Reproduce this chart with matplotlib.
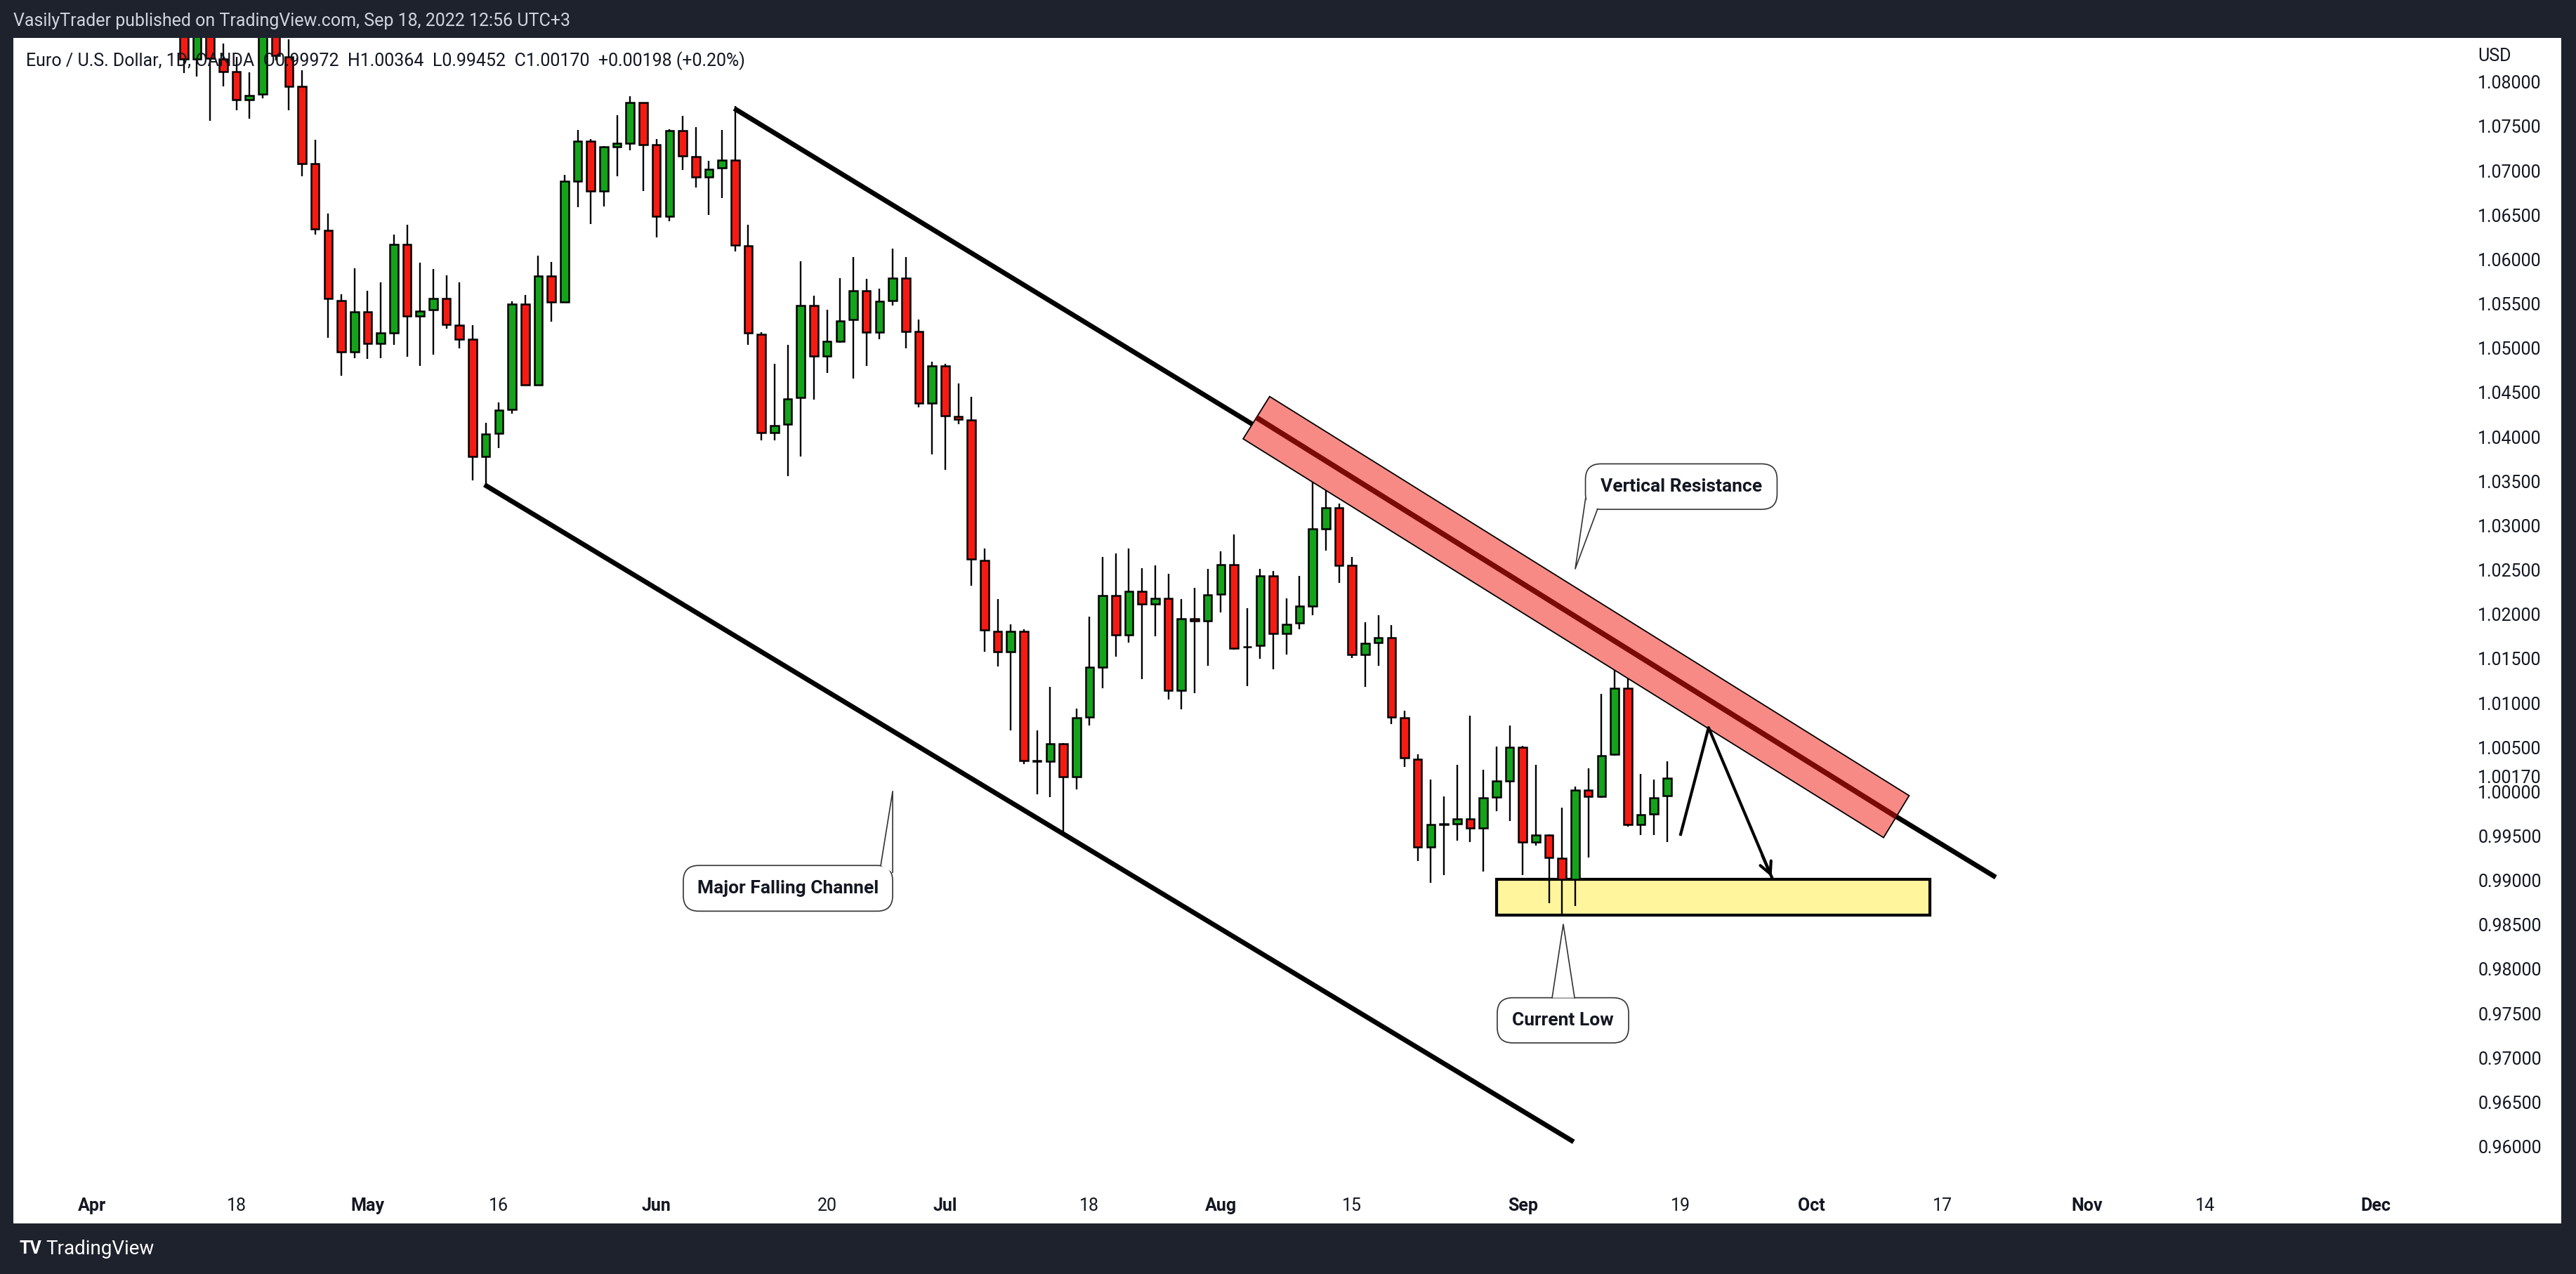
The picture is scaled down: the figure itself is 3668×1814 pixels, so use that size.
import numpy as np
import pandas as pd
import matplotlib
matplotlib.use("Agg")
import matplotlib.pyplot as plt
from matplotlib.patches import Polygon, FancyBboxPatch

# ---------------- data (EUR/USD daily, OANDA) ----------------
start_date = "2022-04-12"
opens = [1.0887,1.0828,1.0890,1.0828,1.0814,1.0782,1.0788,1.0880,1.0830,1.0797,
         1.0710,1.0635,1.0556,1.0498,1.0543,1.0507,1.0519,1.0619,1.0538,1.0545,
         1.0558,1.0528,1.0512,1.0380,1.0406,1.0433,1.0552,1.0461,1.0583,1.0554,
         1.0690,1.0735,1.0679,1.0729,1.0733,1.0779,1.0731,1.0651,1.0747,1.0718,
         1.0695,1.0705,1.0714,1.0617,1.0518,1.0407,1.0416,1.0446,1.0550,1.0493,
         1.0510,1.0534,1.0567,1.0520,1.0556,1.0581,1.0521,1.0440,1.0482,1.0425,
         1.0421,1.0263,1.0183,1.0160,1.0183,1.0036,1.0036,1.0056,1.0019,1.0086,
         1.0142,1.0223,1.0179,1.0228,1.0214,1.0220,1.0116,1.0197,1.0195,1.0225,
         1.0258,1.0165,1.0167,1.0245,1.0180,1.0192,1.0211,1.0298,1.0322,1.0257,
         1.0157,1.0170,1.0176,1.0085,1.0039,0.9940,0.9965,0.9966,0.9971,0.9961,
         0.9996,1.0014,1.0052,0.9945,0.9953,0.9927,0.9903,1.0004,0.9997,1.0044,
         1.0119,0.9965,0.9977,0.99972]
highs = [1.0900,1.0905,1.0925,1.0845,1.0830,1.0813,1.0936,1.0890,1.0850,1.0815,
         1.0737,1.0654,1.0563,1.0592,1.0567,1.0576,1.0630,1.0641,1.0598,1.0591,
         1.0584,1.0576,1.0528,1.0418,1.0441,1.0555,1.0562,1.0606,1.0599,1.0697,
         1.0748,1.0738,1.0730,1.0765,1.0786,1.0779,1.0738,1.0749,1.0764,1.0751,
         1.0713,1.0748,1.0775,1.0641,1.0520,1.0484,1.0506,1.0600,1.0561,1.0545,
         1.0581,1.0605,1.0580,1.0569,1.0614,1.0605,1.0534,1.0487,1.0484,1.0462,
         1.0447,1.0276,1.0219,1.0191,1.0185,1.0071,1.0120,1.0057,1.0096,1.0199,
         1.0267,1.0271,1.0276,1.0254,1.0257,1.0248,1.0219,1.0232,1.0253,1.0273,
         1.0292,1.0209,1.0253,1.0251,1.0220,1.0245,1.0367,1.0363,1.0327,1.0267,
         1.0193,1.0201,1.0190,1.0093,1.0044,1.0016,0.9997,1.0032,1.0088,1.0027,
         1.0053,1.0077,1.0054,1.0032,0.9954,0.9984,1.0008,1.0028,1.0112,1.0196,
         1.0185,1.0022,1.0016,1.00364]
lows = [1.0812,1.0808,1.0758,1.0797,1.0770,1.0761,1.0784,1.0826,1.0770,1.0696,
        1.0630,1.0514,1.0471,1.0491,1.0490,1.0491,1.0506,1.0492,1.0482,1.0495,
        1.0524,1.0502,1.0353,1.0348,1.0389,1.0428,1.0460,1.0460,1.0532,1.0553,
        1.0661,1.0642,1.0662,1.0696,1.0725,1.0679,1.0627,1.0645,1.0703,1.0683,
        1.0652,1.0671,1.0611,1.0506,1.0398,1.0398,1.0358,1.0380,1.0444,1.0474,
        1.0508,1.0468,1.0482,1.0512,1.0550,1.0502,1.0435,1.0382,1.0365,1.0416,
        1.0234,1.0160,1.0143,1.0071,1.0033,0.9999,0.9996,0.9952,1.0005,1.0077,
        1.0119,1.0154,1.0170,1.0129,1.0177,1.0106,1.0095,1.0113,1.0144,1.0204,
        1.0162,1.0121,1.0152,1.0140,1.0157,1.0185,1.0201,1.0274,1.0237,1.0153,
        1.0120,1.0144,1.0078,1.0030,0.9924,0.9899,0.9908,0.9947,0.9945,0.9912,
        0.9980,0.9969,0.9908,0.9941,0.9876,0.9861,0.9873,0.9928,0.9995,1.0043,
        0.9963,0.9953,0.9953,0.99452]
closes = [1.0828,1.0890,1.0829,1.0814,1.0782,1.0787,1.0880,1.0832,1.0797,1.0710,
          1.0636,1.0558,1.0498,1.0543,1.0507,1.0519,1.0619,1.0538,1.0544,1.0558,
          1.0529,1.0512,1.0380,1.0405,1.0432,1.0552,1.0461,1.0583,1.0554,1.0690,
          1.0735,1.0679,1.0729,1.0733,1.0779,1.0731,1.0651,1.0747,1.0719,1.0695,
          1.0704,1.0714,1.0618,1.0519,1.0407,1.0415,1.0445,1.0550,1.0493,1.0510,
          1.0533,1.0567,1.0520,1.0555,1.0581,1.0521,1.0440,1.0482,1.0426,1.0422,
          1.0264,1.0184,1.0160,1.0183,1.0037,1.0037,1.0056,1.0019,1.0085,1.0142,
          1.0223,1.0179,1.0228,1.0214,1.0220,1.0116,1.0197,1.0195,1.0224,1.0258,
          1.0164,1.0165,1.0245,1.0180,1.0191,1.0211,1.0298,1.0322,1.0257,1.0157,
          1.0169,1.0176,1.0086,1.0040,0.9940,0.9965,0.9966,0.9971,0.9961,0.9995,
          1.0014,1.0052,0.9945,0.9953,0.9928,0.9903,1.0004,0.9997,1.0043,1.0119,
          0.9965,0.9976,0.9995,1.00170]

price_ticks = [1.080, 1.075, 1.070, 1.065, 1.060, 1.055, 1.050, 1.045, 1.040, 1.035,
               1.030, 1.025, 1.020, 1.015, 1.010, 1.005, 1.000, 0.995, 0.990, 0.985,
               0.980, 0.975, 0.970, 0.965, 0.960]
last_price = 1.00170
date_ticks = ["2022-04-01","2022-04-18","2022-05-02","2022-05-16","2022-06-01","2022-06-20",
              "2022-07-01","2022-07-18","2022-08-01","2022-08-15","2022-09-01","2022-09-19",
              "2022-10-03","2022-10-17","2022-11-01","2022-11-14","2022-12-01"]
date_labels = ["Apr","18","May","16","Jun","20","Jul","18","Aug","15","Sep","19",
               "Oct","17","Nov","14","Dec"]
month_labels = {"Apr","May","Jun","Jul","Aug","Sep","Oct","Nov","Dec"}

# ---------------- figure ----------------
W, H = 3668, 1814
fig = plt.figure(figsize=(W/100, H/100), dpi=100)
fig.patch.set_facecolor("#1E222D")
ax = fig.add_axes([19/W, (H-1742)/H, (3647-19)/W, (1742-54)/H])
ax.set_facecolor("white")
for s in ax.spines.values():
    s.set_visible(False)
ax.set_xticks([]); ax.set_yticks([])

origin = np.datetime64("2022-04-01")
def tidx(d):
    return float(np.busday_count(origin, np.datetime64(d, "D")))

dates = pd.bdate_range(start_date, periods=len(closes))
x = np.array([tidx(d.strftime("%Y-%m-%d")) for d in dates])
o = np.array(opens); h = np.array(highs); l = np.array(lows); c = np.array(closes)

ax.set_xlim(-5.99, 188.12)
ax.set_ylim(0.95154, 1.08517)

RED, GREEN = "#F51B12", "#14A31A"
cols = np.where(c >= o, GREEN, RED)
ax.vlines(x, l, h, color="black", lw=1.7, zorder=2)
bh = np.maximum(np.abs(c - o), 0.00006)
ax.bar(x, bh, bottom=np.minimum(o, c), width=0.62, color=cols,
       edgecolor="black", linewidth=1.8, zorder=3)

# ---------------- drawings ----------------
ax.plot([48.93, 145.04], [1.07722, 0.99056], color="black", lw=5, zorder=4,
        solid_capstyle="butt")
ax.plot([29.9, 112.88], [1.03481, 0.96074], color="black", lw=5, zorder=4,
        solid_capstyle="butt")
band = Polygon([[89.72, 1.04475], [87.70, 1.03998], [136.49, 0.99503], [138.44, 0.99976]],
               closed=True, facecolor="#F88A85", edgecolor="black", lw=1.3, zorder=5)
ax.add_patch(band)
ax.plot([88.71, 137.45], [1.04238, 0.99739], color="#7A0A06", lw=5.5, zorder=6,
        solid_capstyle="butt")

ax.add_patch(plt.Rectangle((107.0, 0.98630), 33.0, 0.00407, facecolor="#FFF59D",
                           edgecolor="black", lw=3, zorder=1.5))

ax.plot([121.03, 123.16, 128.02], [0.99540, 1.00743, 0.99040], color="black", lw=3,
        zorder=7)
ax.annotate("", xy=(128.02, 0.99040), xytext=(127.2, 0.9932),
            arrowprops=dict(arrowstyle="->,head_length=1.2,head_width=0.6", lw=3,
                            color="black"), zorder=7)

# callouts (drawn in pixel space)
fig.canvas.draw()
T = ax.transData
def P(ix, p):
    return T.transform((ix, p))

def callout(x0, x1, p_top, p_bot, tail, text):
    (a, b) = P(x0, p_bot); (a2, b2) = P(x1, p_top)
    box = FancyBboxPatch((a, b), a2 - a, b2 - b, boxstyle="round,pad=0,rounding_size=22",
                         transform=None, facecolor="white", edgecolor="#333333",
                         lw=1.2, zorder=8)
    fig.patches.append(box)
    pts = [P(*q) for q in tail]
    fig.patches.append(Polygon(pts, closed=True, transform=None, facecolor="white",
                               edgecolor="none", zorder=8.5))
    fig.lines.append(plt.Line2D([pts[0][0], pts[1][0], pts[2][0]],
                                [pts[0][1], pts[1][1], pts[2][1]],
                                transform=None, color="#333333", lw=1.2, zorder=9))
    fig.text((a + a2) / 2 / W, (b + b2) / 2 / H, text, ha="center", va="center",
             fontsize=19, fontweight="bold", family="Roboto", color="#131722",
             zorder=10)

callout(113.78, 128.38, 1.03716, 1.03203,
        [(113.78, 1.0332), (113.0, 1.02532), (114.69, 1.03203)], "Vertical Resistance")
callout(45.05, 61.0, 0.99189, 0.98674,
        [(60.09, 0.99189), (61.0, 1.00025), (61.0, 0.99110)], "Major Falling Channel")
callout(107.06, 117.07, 0.97698, 0.97189,
        [(111.24, 0.97698), (112.09, 0.98526), (112.95, 0.97698)], "Current Low")

# ---------------- axis labels ----------------
lab_x = 181.76
for p in price_ticks:
    ax.text(lab_x, p, f"{p:.5f}", ha="left", va="center", fontsize=18,
            family="Roboto", color="#131722", zorder=11)
ax.text(lab_x, last_price, f"{last_price:.5f}", ha="left", va="center", fontsize=18,
        family="Roboto", color="#131722", zorder=11)
ax.text(lab_x, 1.08311, "USD", ha="left", va="center", fontsize=18, family="Roboto",
        color="#131722", zorder=11)
for d, lab in zip(date_ticks, date_labels):
    ax.text(tidx(d), 0.95352, lab, ha="center", va="center", fontsize=18,
            family="Roboto", fontweight="bold" if lab in month_labels else "normal",
            color="#131722", zorder=11)

# ---------------- header / footer ----------------
fig.text(19/W, 1 - 30/H, "VasilyTrader published on TradingView.com, Sep 18, 2022 12:56 UTC+3",
         ha="left", va="center", fontsize=18, family="Roboto", color="#D1D4DC")
fig.text(37/W, 1 - 87/H,
         "Euro / U.S. Dollar, 1D, OANDA  O0.99972  H1.00364  L0.99452  C1.00170  +0.00198 (+0.20%)",
         ha="left", va="center", fontsize=18, family="Roboto", color="#131722", zorder=12)
fig.text(28/W, 1 - 1778/H, "TV", ha="left", va="center", fontsize=18, fontweight="bold",
         family="Roboto", color="white")
fig.text(65/W, 1 - 1778/H, "TradingView", ha="left", va="center", fontsize=20,
         family="Roboto", color="white")

fig.savefig("out.png", dpi=100, facecolor=fig.get_facecolor())
